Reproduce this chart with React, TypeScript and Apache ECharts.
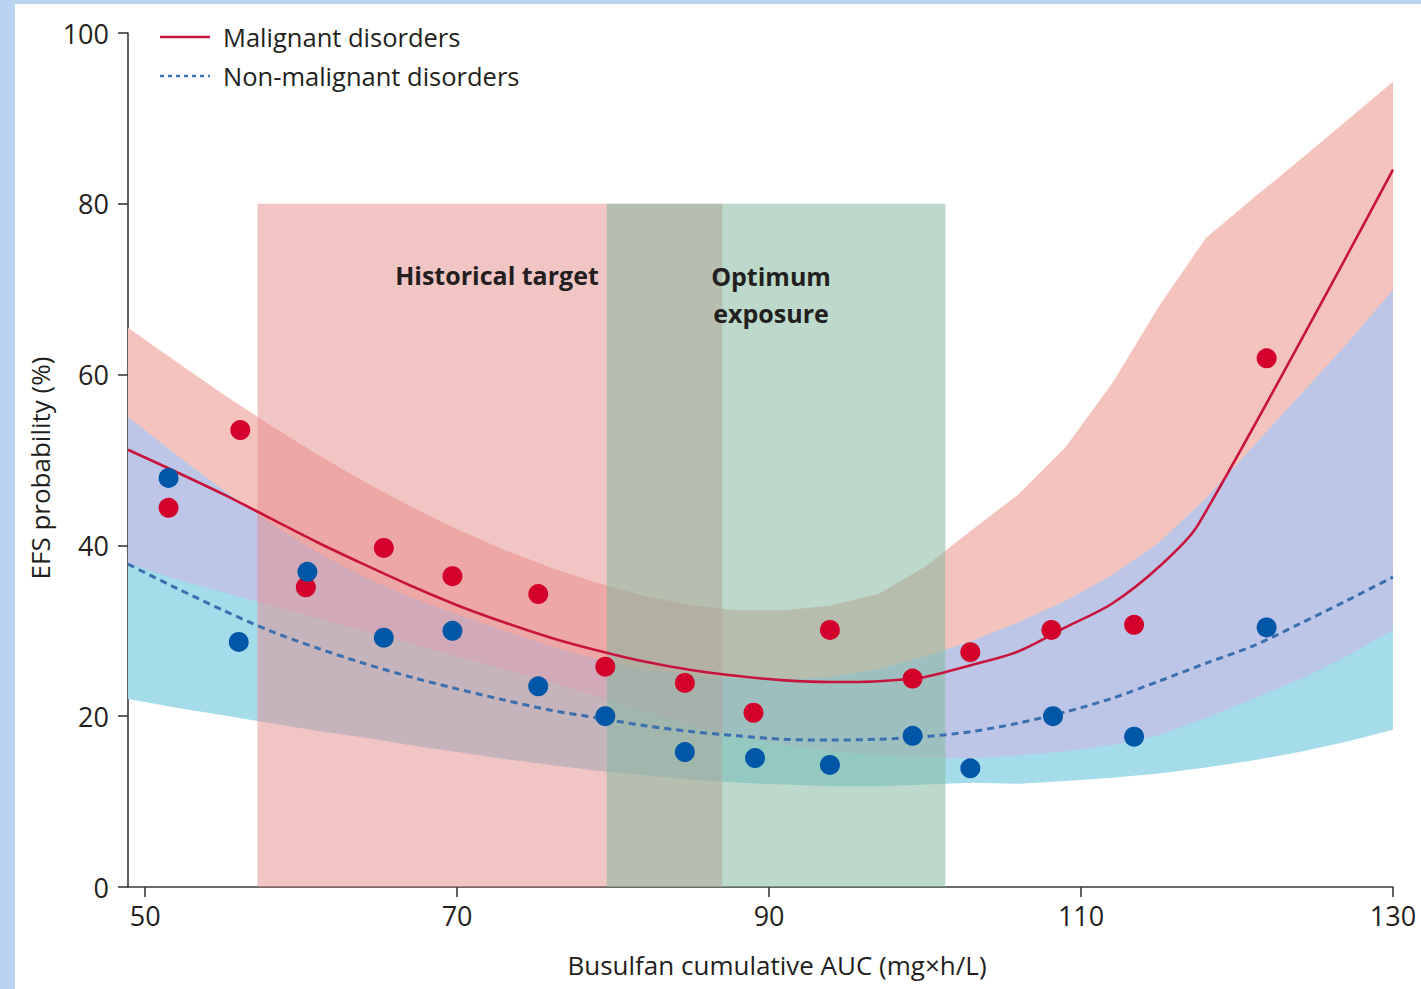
import React, { useEffect, useRef } from "react";
import * as echarts from "echarts";

// ---- Data ----
const X_TICKS = [50, 70, 90, 110, 130];

// Observed points
const MAL_X = [51.5, 56.1, 60.3, 65.3, 69.7, 75.2, 79.5, 84.6, 89.0, 93.9, 99.2, 102.9, 108.1, 113.4, 121.9];
const MAL_Y = [44.4, 53.5, 35.1, 39.7, 36.4, 34.3, 25.8, 23.9, 20.4, 30.1, 24.4, 27.5, 30.1, 30.7, 61.9];
const NON_X = [51.5, 56.0, 60.4, 65.3, 69.7, 75.2, 79.5, 84.6, 89.1, 93.9, 99.2, 102.9, 108.2, 113.4, 121.9];
const NON_Y = [47.9, 28.7, 36.9, 29.2, 30.0, 23.5, 20.0, 15.8, 15.1, 14.3, 17.7, 13.9, 20.0, 17.6, 30.4];

// Fitted malignant curve
const MAL_FIT_X = [48.9, 52, 55, 58, 61, 64, 67, 70, 73, 76, 79, 82, 85, 88, 91, 94, 97, 100, 103, 106, 109, 112, 115, 117.5, 130];
const MAL_FIT_Y = [51.2, 48.6, 46.0, 43.2, 40.4, 37.8, 35.3, 33.0, 31.0, 29.2, 27.7, 26.4, 25.4, 24.7, 24.2, 24.0, 24.1, 24.6, 26.0, 27.6, 30.4, 33.2, 37.5, 42.4, 84.0];

// Common grid for the non-malignant curve and confidence bands
const GRID_X = [48.9, 52, 55, 58, 61, 64, 67, 70, 73, 76, 79, 82, 85, 88, 91, 94, 97, 100, 103, 106, 109, 112, 115, 118, 121, 124, 127, 130];
const NON_FIT_Y = [37.8, 35.0, 32.4, 30.0, 28.0, 26.2, 24.6, 23.2, 21.9, 20.7, 19.8, 18.9, 18.2, 17.7, 17.3, 17.2, 17.3, 17.6, 18.2, 19.2, 20.5, 22.1, 24.1, 26.2, 28.2, 30.8, 33.5, 36.3];
const MAL_UPPER = [65.5, 61.5, 57.7, 54.1, 50.7, 47.5, 44.6, 41.9, 39.5, 37.4, 35.6, 34.1, 33.0, 32.4, 32.4, 33.0, 34.3, 37.5, 41.8, 46.0, 51.5, 59.0, 68.0, 76.0, 80.6, 85.1, 89.7, 94.3];
const MAL_LOWER = [37.9, 36.0, 34.5, 33.0, 31.5, 30.0, 28.5, 27.0, 25.5, 24.0, 22.3, 20.6, 19.0, 17.6, 16.6, 15.9, 15.4, 15.1, 15.1, 15.4, 15.9, 16.6, 17.8, 19.8, 22.0, 24.3, 27.0, 30.1];
const NON_UPPER = [55.0, 50.6, 46.5, 42.6, 39.2, 36.3, 33.9, 31.9, 30.0, 28.2, 26.6, 25.5, 24.8, 24.4, 24.3, 24.6, 25.5, 27.0, 28.8, 31.0, 33.5, 36.5, 40.3, 45.5, 51.5, 57.5, 63.5, 69.9];
const NON_LOWER = [22.0, 21.0, 20.1, 19.2, 18.3, 17.5, 16.6, 15.8, 15.0, 14.3, 13.6, 13.1, 12.6, 12.2, 12.0, 11.8, 11.8, 12.0, 12.2, 12.1, 12.4, 12.8, 13.3, 14.0, 14.8, 15.8, 17.0, 18.4];

// Shaded exposure ranges
const HIST_RANGE = [57.2, 87.0];
const OPT_RANGE = [79.6, 101.3];
const RANGE_TOP = 80;

const FONT = "'Open Sans', 'Noto Sans', sans-serif";
const TEXT = "#231f20";

function zip(xs: number[], ys: number[]) {
  return xs.map((x, i) => [x, ys[i]]);
}

function bandSeries(xs: number[], lo: number[], hi: number[], color: string, z: number) {
  return {
    type: "custom",
    silent: true,
    z,
    data: [[xs[0], hi[0]]],
    renderItem: (_p: any, api: any) => {
      const pts: number[][] = [];
      for (let i = 0; i < xs.length; i++) pts.push(api.coord([xs[i], hi[i]]));
      for (let i = xs.length - 1; i >= 0; i--) pts.push(api.coord([xs[i], lo[i]]));
      return { type: "polygon", shape: { points: pts }, style: { fill: color } };
    },
  };
}

function rangeSeries(range: number[], color: string, z: number) {
  return {
    type: "custom",
    silent: true,
    z,
    data: [[range[0], RANGE_TOP]],
    renderItem: (_p: any, api: any) => {
      const a = api.coord([range[0], RANGE_TOP]);
      const b = api.coord([range[1], 0]);
      return {
        type: "rect",
        shape: { x: a[0], y: a[1], width: b[0] - a[0], height: b[1] - a[1] },
        style: { fill: color },
      };
    },
  };
}

export default function App() {
  const ref = useRef<HTMLDivElement>(null);
  useEffect(() => {
    if (!ref.current) return;
    const chart = echarts.init(ref.current, null, { renderer: "svg" });
    const ovlLo = GRID_X.map((_, i) => Math.max(MAL_LOWER[i], NON_LOWER[i]));
    const ovlHi = GRID_X.map((_, i) => Math.min(MAL_UPPER[i], NON_UPPER[i]));
    chart.setOption({
      animation: false,
      backgroundColor: "#ffffff",
      grid: { left: 128, right: 28, top: 33, bottom: 102 },
      xAxis: {
        type: "value",
        min: 48.9,
        max: 130,
        axisLine: { lineStyle: { color: "#3a3a3a", width: 1.6 } },
        axisTick: { customValues: X_TICKS, length: 10, lineStyle: { color: "#3a3a3a", width: 1.6 } },
        axisLabel: { customValues: X_TICKS, fontSize: 27, color: TEXT, margin: 15, fontFamily: FONT },
        splitLine: { show: false },
      },
      yAxis: {
        type: "value",
        min: 0,
        max: 100,
        interval: 20,
        axisLine: { show: true, lineStyle: { color: "#3a3a3a", width: 1.6 } },
        axisTick: { show: true, length: 10, lineStyle: { color: "#3a3a3a", width: 1.6 } },
        axisLabel: { fontSize: 27, color: TEXT, margin: 19, fontFamily: FONT },
        splitLine: { show: false },
      },
      series: [
        bandSeries(GRID_X, MAL_LOWER, MAL_UPPER, "#f5c3bd", 1),
        bandSeries(GRID_X, NON_LOWER, NON_UPPER, "#a5dcea", 1),
        bandSeries(GRID_X, ovlLo, ovlHi, "#bdc6e6", 1),
        rangeSeries(HIST_RANGE, "rgba(229,139,139,0.5)", 2),
        rangeSeries(OPT_RANGE, "rgba(131,185,159,0.54)", 2),
        {
          name: "Malignant disorders",
          type: "line",
          z: 3,
          data: zip(MAL_FIT_X, MAL_FIT_Y),
          showSymbol: false,
          smooth: 0.3,
          lineStyle: { color: "#c8143c", width: 2.6 },
        },
        {
          name: "Non-malignant disorders",
          type: "line",
          z: 3,
          data: zip(GRID_X, NON_FIT_Y),
          showSymbol: false,
          smooth: 0.3,
          lineStyle: { color: "#3a6fb0", width: 3, type: [7, 5] },
        },
        {
          type: "scatter",
          z: 4,
          data: zip(MAL_X, MAL_Y),
          symbolSize: 20,
          itemStyle: { color: "#d2002a", opacity: 1 },
        },
        {
          type: "scatter",
          z: 4,
          data: zip(NON_X, NON_Y),
          symbolSize: 20,
          itemStyle: { color: "#0057a8", opacity: 1 },
        },
      ],
      graphic: [
        { type: "rect", z: 100, shape: { x: 0, y: 0, width: 15, height: 989 }, style: { fill: "#b9d3f0" } },
        { type: "rect", z: 100, shape: { x: 0, y: 0, width: 1421, height: 4 }, style: { fill: "#b9d3f0" } },
        // legend
        { type: "line", z: 10, shape: { x1: 160, y1: 37, x2: 210, y2: 37 }, style: { stroke: "#c8143c", lineWidth: 2.6 } },
        { type: "text", z: 10, x: 223, y: 37, style: { text: "Malignant disorders", fontSize: 25.5, fontFamily: FONT, fill: TEXT, textVerticalAlign: "middle" } },
        { type: "line", z: 10, shape: { x1: 160, y1: 76, x2: 210, y2: 76 }, style: { stroke: "#3a6fb0", lineWidth: 2.6, lineDash: [4, 4] } },
        { type: "text", z: 10, x: 223, y: 76, style: { text: "Non-malignant disorders", fontSize: 25.5, fontFamily: FONT, fill: TEXT, textVerticalAlign: "middle" } },
        // range labels
        { type: "text", z: 10, x: 497, y: 275, style: { text: "Historical target", fontSize: 25, fontWeight: "bold", fontFamily: FONT, fill: TEXT, textAlign: "center", textVerticalAlign: "middle" } },
        { type: "text", z: 10, x: 771, y: 294, style: { text: "Optimum\nexposure", fontSize: 25, fontWeight: "bold", lineHeight: 37, fontFamily: FONT, fill: TEXT, textAlign: "center", textVerticalAlign: "middle" } },
        // axis titles
        { type: "text", z: 10, x: 777, y: 965, style: { text: "Busulfan cumulative AUC (mg×h/L)", fontSize: 26, fontFamily: FONT, fill: TEXT, textAlign: "center", textVerticalAlign: "middle" } },
        { type: "text", z: 10, x: 40, y: 468, rotation: Math.PI / 2, style: { text: "EFS probability (%)", fontSize: 26, fontFamily: FONT, fill: TEXT, textAlign: "center", textVerticalAlign: "middle" } },
      ],
    });
    return () => chart.dispose();
  }, []);
  return (
    <div
      ref={ref}
      style={{ position: "absolute", left: 0, top: 0, width: 1421, height: 989, background: "#fff" }}
    />
  );
}
